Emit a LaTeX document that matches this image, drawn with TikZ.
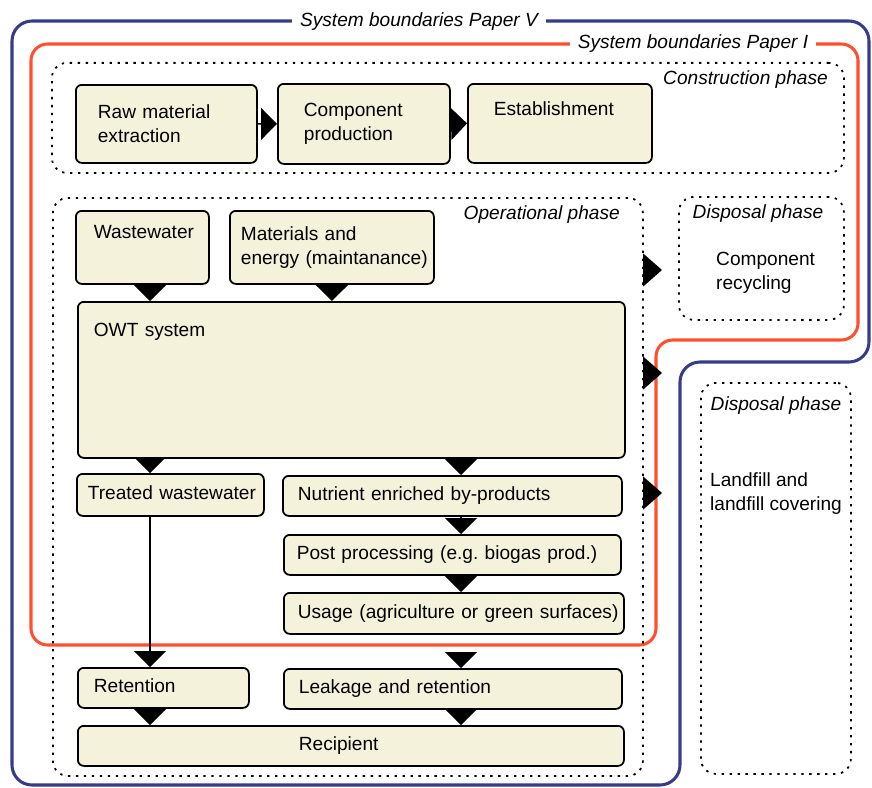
\documentclass[tikz,border=0pt]{standalone}
\usepackage{fontspec}
\usepackage[none]{hyphenat}
\setmainfont{Liberation Sans}
\usetikzlibrary{arrows.meta}
\definecolor{mcream}{HTML}{F5F2DC}
\definecolor{mblue}{HTML}{363B8A}
\definecolor{mred}{HTML}{FF4F2E}

\begin{document}
\begin{tikzpicture}[x=0.03cm, y=-0.03cm,
    every node/.style={font=\fontsize{16.3pt}{20.5pt}\selectfont},
    cbox/.style={draw, fill=mcream, line width=1.5pt, rounded corners=5pt, anchor=north west, align=left, inner ysep=0pt},
    oneline/.style={text height=0.42cm, text depth=0.12cm},
    phase/.style={draw, dash pattern=on 2pt off 4.8pt, line width=1.5pt, rounded corners=0.45cm, anchor=north west, inner sep=0pt},
    tag/.style={font=\fontsize{16.3pt}{20.5pt}\selectfont\itshape, inner sep=0pt},
    tri/.style={line width=1.3pt, -{Triangle[width=0.96cm, length=0.48cm]}},
    trib/.style={line width=1.3pt, -{Triangle[width=0.99cm, length=0.57cm]}},
    bound/.style={line width=2.6pt, rounded corners=0.6cm}]
      \useasboundingbox (0,0) rectangle (872,787);

      \draw [bound, mblue] (12,21) -- (869,21) -- (869,362) -- (680,362) -- (680,785) -- (12,785) -- cycle;
      \draw [bound, mred, rounded corners=0.5cm] (31,44) -- (858,44) -- (858,340) -- (656,340) -- (656,645) -- (31,645) -- cycle;
      \node [tag, fill=white, inner xsep=0.24cm, inner ysep=0.1cm, anchor=base] (paperV) at (419,27) {System boundaries Paper V};
      \node [tag, fill=white, inner xsep=0.24cm, inner ysep=0.1cm, anchor=base] (paperI) at (693,49) {System boundaries Paper I};

      \node [phase, minimum width=23.76cm, minimum height=3.30cm] (constr) at (51,62) {};
      \node [phase, minimum width=17.70cm, minimum height=17.34cm] (oper) at (52,197) {};
      \node [phase, minimum width=4.95cm, minimum height=3.69cm] (disp1) at (678,196) {};
      \node [phase, minimum width=4.50cm, minimum height=11.73cm] (disp2) at (700,382) {};
      \node [tag, anchor=base east] (constrlab) at (828,85) {Construction phase};
      \node [tag, anchor=base east] (operlab) at (620,219) {Operational phase};
      \node [tag, anchor=base] (disp1lab) at (758,218) {Disposal phase};
      \node [tag, anchor=base] (disp2lab) at (776,410) {Disposal phase};
      \node [align=left, anchor=west, inner sep=0pt] (recyc) at (716,273) {Component\\recycling};
      \node [align=left, anchor=west, inner sep=0pt] (landf) at (710,494) {Landfill and\\landfill covering};

      \node [cbox, minimum height=2.34cm, inner xsep=0.66cm, text width=4.11cm] (raw) at (75,84) {Raw material\\extraction};
      \node [cbox, minimum height=2.40cm, inner xsep=0.78cm, text width=3.60cm] (comp) at (277,83) {Component\\production};
      \node [cbox, inner xsep=0.78cm, text width=3.96cm, inner ysep=0.54cm, text height=0.42cm, text depth=0.87cm] (est) at (467,83) {Establishment};

      \node [cbox, inner xsep=0.54cm, text width=2.91cm, inner ysep=0.42cm, text height=0.42cm, text depth=0.93cm] (ww) at (75,210) {Wastewater};
      \node [cbox, minimum height=2.19cm, inner xsep=0.33cm, text width=5.46cm] (mat) at (229,210) {Materials and\\energy~(maintanance)};
      \node [cbox, inner xsep=0.48cm, text width=15.45cm, inner ysep=0.63cm, text height=0.42cm, text depth=3.00cm] (owt) at (77,301) {OWT system};

      \node [cbox, oneline, minimum height=1.26cm, inner xsep=0.33cm, text width=4.95cm] (tw) at (76,473) {Treated~wastewater};
      \node [cbox, oneline, minimum height=1.20cm, inner xsep=0.45cm, text width=9.27cm] (nut) at (282,475) {Nutrient~enriched~by-products};
      \node [cbox, oneline, minimum height=1.20cm, inner xsep=0.39cm, text width=9.33cm] (post) at (283,534) {Post~processing~(e.g.~biogas~prod.)};
      \node [cbox, oneline, minimum height=1.23cm, inner xsep=0.42cm, text width=9.36cm] (use) at (283,592) {Usage~(agriculture~or~green~surfaces)};
      \node [cbox, oneline, minimum height=1.20cm, inner xsep=0.48cm, text width=4.17cm] (ret) at (77,667) {Retention};
      \node [cbox, oneline, minimum height=1.20cm, inner xsep=0.45cm, text width=9.24cm] (leak) at (283,668) {Leakage~and~retention};
      \node [cbox, oneline, minimum height=1.20cm, inner xsep=6.63cm, text width=3.12cm] (rec) at (77,725) {Recipient};

      \coordinate (c1) at (150,0);
      \coordinate (c2) at (461,0);
      \coordinate (out1) at (662,270);
      \coordinate (out2) at (662,373);
      \coordinate (out3) at (662,493);

      \draw [tri] (raw.east) -- (comp.west);
      \draw [tri] (comp.east) -- (est.west);
      \draw [tri] (ww.south -| c1) -- (owt.north -| c1);
      \draw [tri] (mat.south) -- (mat.south |- owt.north);
      \draw [tri] (owt.south -| c1) -- (tw.north -| c1);
      \draw [tri] (owt.south -| c2) -- (nut.north -| c2);
      \draw [tri] (nut.south -| c2) -- (post.north -| c2);
      \draw [tri] (post.south -| c2) -- (use.north -| c2);
      \draw [tri] (tw.south -| c1) -- (ret.north -| c1);
      \draw [tri, shorten <=0.57cm] (use.south -| c2) -- (leak.north -| c2);
      \draw [tri] (ret.south -| c1) -- (rec.north -| c1);
      \draw [tri] (leak.south -| c2) -- (rec.north -| c2);

      \draw [trib] (oper.east |- out1) -- (out1);
      \draw [trib] (oper.east |- out2) -- (out2);
      \draw [trib] (oper.east |- out3) -- (out3);
    \end{tikzpicture}
\end{document}
